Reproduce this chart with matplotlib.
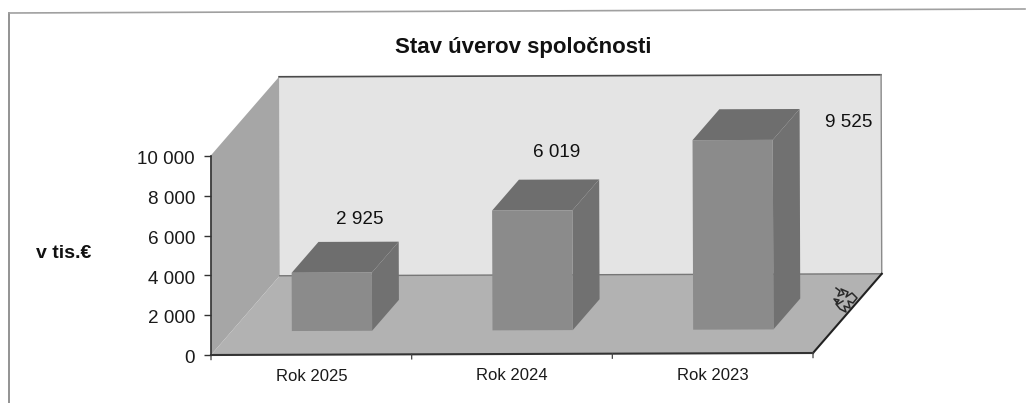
import matplotlib
matplotlib.use("Agg")
import matplotlib.pyplot as plt
from matplotlib.lines import Line2D
from matplotlib.patches import Polygon
from matplotlib.transforms import Affine2D, ScaledTranslation

plt.rcParams['font.family'] = ['Liberation Sans', 'DejaVu Sans']

# Data
categories = ["Rok 2025", "Rok 2024", "Rok 2023"]
values = [2925, 6019, 9525]
value_labels = ["2 925", "6 019", "9 525"]
y_ticks = [0, 2000, 4000, 6000, 8000, 10000]
y_tick_labels = ["0", "2 000", "4 000", "6 000", "8 000", "10 000"]
label_offsets = [(28, 53), (24, 58), (116, 18)]  # px from the middle of the bar top

# 3d look: how far the back of the chart is shifted from the front
DEPTH_X = 0.344
DEPTH_Y = 3970
BAR_WIDTH = 0.40
BAR_FRONT = 0.30
BAR_BACK = 0.69

W, H = 1026, 403
fig = plt.figure(figsize=(W / 100, H / 100), dpi=100)
ax = fig.add_axes([211 / W, (H - 355) / H, 602 / W, 199 / H])
ax.set_xlim(0, 3)
ax.set_ylim(0, 10000)
ax.patch.set_visible(False)

# the scan is a bit crooked
tilt = ax.transData + Affine2D().rotate_deg_around(211, H - 355, 0.19)


def pt(x, y, d):
    return (x + d * DEPTH_X, y + d * DEPTH_Y)


def face(points, color, z=2):
    ax.add_patch(Polygon(points, closed=True, facecolor=color, edgecolor="none",
                         linewidth=0, transform=tilt, clip_on=False, zorder=z))


# walls and floor
face([pt(0, 0, 1), pt(3, 0, 1), pt(3, 10000, 1), pt(0, 10000, 1)], "#e4e4e4", z=1)
face([pt(0, 0, 0), pt(0, 0, 1), pt(0, 10000, 1), pt(0, 10000, 0)], "#a6a6a6", z=1)
face([pt(0, 0, 0), pt(3, 0, 0), pt(3, 0, 1), pt(0, 0, 1)], "#b2b2b2", z=1)

for a, b, c, lw in [(pt(0, 10000, 1), pt(3, 10000, 1), "#4a4a4a", 1.2),
                    (pt(3, 10000, 1), pt(3, 0, 1), "#8a8a8a", 1.0),
                    (pt(0, 0, 1), pt(3, 0, 1), "#777777", 1.0),
                    (pt(3, 0, 0), pt(3, 0, 1), "#222222", 1.5),
                    (pt(0, 0, 0), pt(3, 0, 0), "#333333", 1.5)]:
    ax.plot([a[0], b[0]], [a[1], b[1]], color=c, lw=lw, transform=tilt, clip_on=False, zorder=1.5)

# bars
for i, v in enumerate(values):
    x0 = i + 0.5 - BAR_WIDTH / 2
    x1 = i + 0.5 + BAR_WIDTH / 2
    face([pt(x1, 0, BAR_FRONT), pt(x1, 0, BAR_BACK), pt(x1, v, BAR_BACK), pt(x1, v, BAR_FRONT)], "#717171")
    face([pt(x0, v, BAR_FRONT), pt(x1, v, BAR_FRONT), pt(x1, v, BAR_BACK), pt(x0, v, BAR_BACK)], "#6e6e6e")
    face([pt(x0, 0, BAR_FRONT), pt(x1, 0, BAR_FRONT), pt(x1, v, BAR_FRONT), pt(x0, v, BAR_FRONT)], "#8b8b8b")
    ox, oy = label_offsets[i]
    ax.annotate(value_labels[i], xy=pt(i + 0.5, v, BAR_FRONT), xycoords=tilt,
                xytext=(ox * 0.72, oy * 0.72), textcoords="offset points",
                ha="center", va="center", fontsize=13.6, color="#111111", zorder=5)

# axes
for s in ["top", "right", "bottom"]:
    ax.spines[s].set_visible(False)
ax.spines["left"].set_color("#333333")
ax.spines["left"].set_linewidth(1.2)
ax.spines["left"].set_zorder(3)
ax.set_yticks(y_ticks)
ax.set_yticklabels(y_tick_labels, fontsize=13.6, color="#1a1a1a")
ax.tick_params(axis="y", length=5, width=1, color="#333333", pad=6.5)
ax.set_xticks([])
shift = ScaledTranslation(0, -1.2 / 72, fig.dpi_scale_trans)
for lab in ax.get_yticklabels():
    lab.set_transform(lab.get_transform() + shift)

for i in range(len(categories) + 1):
    ax.plot([i, i], [-230, 0], color="#444444", lw=0.9, transform=tilt, clip_on=False, zorder=1.5)
for i, name in enumerate(categories):
    ax.text(i + 0.5, -1090, name, transform=tilt, ha="center", va="center",
            fontsize=12, color="#1a1a1a", clip_on=False)

fig.text(523 / W, (H - 47) / H, "Stav úverov spoločnosti", ha="center", va="center",
         fontsize=16, fontweight="bold", color="#111111")
fig.text(64 / W, (H - 253) / H, "v tis.€", ha="center", va="center",
         fontsize=14, fontweight="bold", color="#111111")

# page frame
fig.add_artist(Line2D([9 / W, 9 / W], [0, (H - 13) / H], color="#808080", lw=1.2))
fig.add_artist(Line2D([9 / W, 1 - 1 / W], [(H - 13) / H, (H - 9) / H], color="#a0a0a0", lw=1.2))

# pen scribble on the floor of the scanned page
scribble_x = [836, 840, 838, 844, 841, 848, 846, 852, 857, 853, 848, 850, 844, 846, 840, 836, 839, 834, 838, 843]
scribble_y = [288, 291, 296, 294, 289, 292, 297, 293, 298, 303, 301, 308, 306, 312, 309, 304, 300, 299, 304, 301]
fig.add_artist(Line2D([x / W for x in scribble_x], [(H - y) / H for y in scribble_y],
                      color="#2a2a2a", lw=1.1))

fig.savefig("out.png")
